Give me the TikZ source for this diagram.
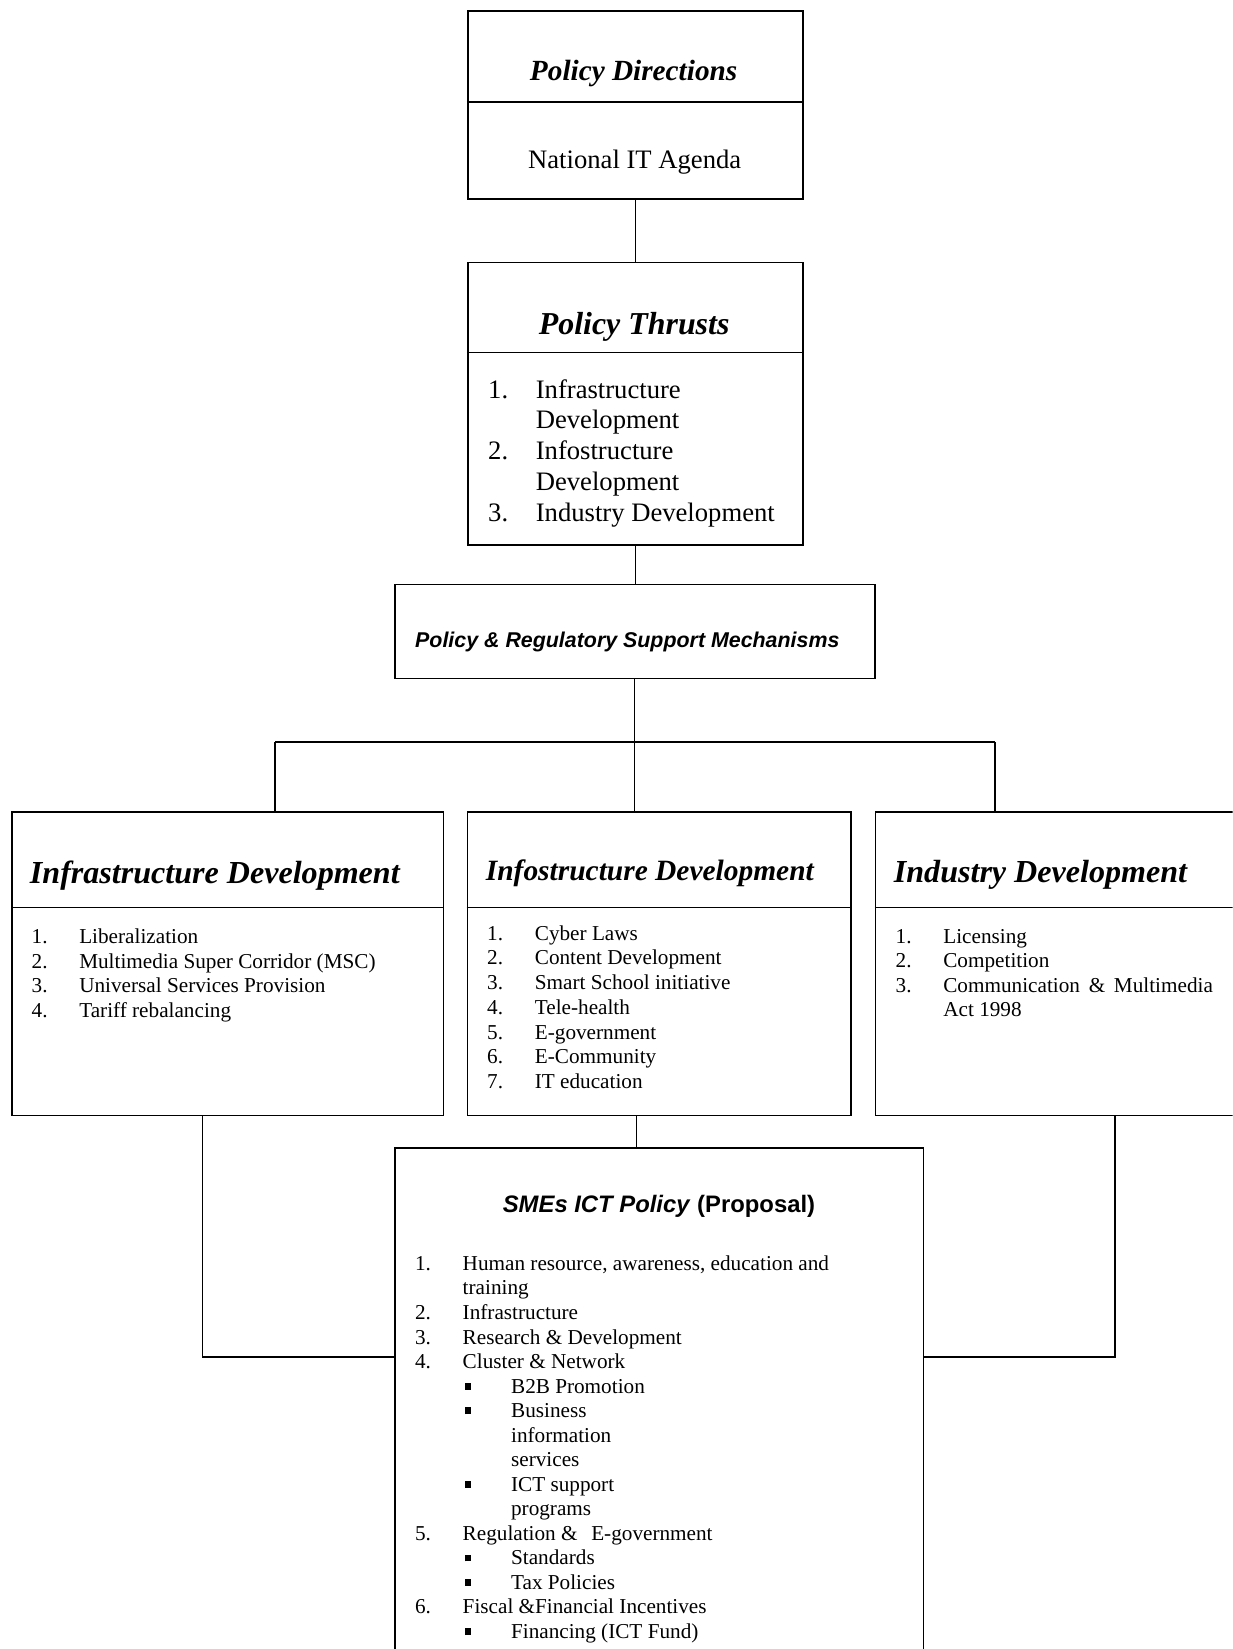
\documentclass[tikz,border=0pt]{standalone}
\usepackage{fontspec}
\setmainfont{Liberation Serif}
\setsansfont{Liberation Sans}

% one drawing unit, used for all lengths below
\newdimen\unitpx \unitpx=0.6pt

% list helpers: number column, continuation, square bullets
\newcommand\numitem[2]{\makebox[45.3\unitpx][l]{#1}#2}
\newcommand\contline[1]{\hspace*{45.3\unitpx}#1}
\newcommand\bulitem[1]{\hspace*{47.3\unitpx}\makebox[44\unitpx][l]{\rule[3.3\unitpx]{6.3\unitpx}{6.5\unitpx}}#1}
\newcommand\bulcont[1]{\hspace*{91.3\unitpx}#1}
\newcommand\listfont{\fontsize{12.1pt}{14pt}\selectfont}
\newcommand\bigfont{\fontsize{15.2pt}{17.6pt}\selectfont}

\begin{document}
\begin{tikzpicture}[x=0.6pt,y=-0.6pt,line width=0.9pt,
  box/.style={draw,rectangle,inner sep=0pt,anchor=north west},
  txt/.style={inner sep=0pt,outer sep=0pt},
  ttl/.style={txt,anchor=base},
  lst/.style={txt,anchor=base west},
  divider/.style={line width=0.9pt}]
\clip (0,0) rectangle (1172,1568);

% ---------- boxes ----------
\node[box,minimum width=319\unitpx,minimum height=178.8\unitpx] (PD) at (444,9.5) {};
\node[box,minimum width=319\unitpx,minimum height=268.9\unitpx] (PT) at (444,248.8) {};
\node[box,minimum width=456.2\unitpx,minimum height=89.5\unitpx] (PRSM) at (374.8,555) {};
\node[box,minimum width=410.5\unitpx,minimum height=288.5\unitpx] (Infra) at (10.5,771.5) {};
\node[box,minimum width=365\unitpx,minimum height=288.5\unitpx] (Info) at (443.6,771.5) {};
\node[box,minimum width=360\unitpx,minimum height=288.5\unitpx] (Ind) at (831.8,771.5) {};
\node[box,minimum width=502.8\unitpx,minimum height=520\unitpx] (SME) at (374.7,1091) {};

% header dividers
\draw[divider] ([yshift=-87.3\unitpx]PD.north west) -- ([yshift=-87.3\unitpx]PD.north east);
\draw[divider] ([yshift=-86.2\unitpx]PT.north west) -- ([yshift=-86.2\unitpx]PT.north east);
\draw[divider] ([yshift=-91.3\unitpx]Infra.north west) -- ([yshift=-91.3\unitpx]Infra.north east);
\draw[divider] ([yshift=-91.3\unitpx]Info.north west) -- ([yshift=-91.3\unitpx]Info.north east);
\draw[divider] ([yshift=-91.3\unitpx]Ind.north west) -- ([yshift=-91.3\unitpx]Ind.north east);

% ---------- texts ----------
\node[ttl,font=\fontsize{16.7pt}{20pt}\selectfont\bfseries\itshape] (pdTitle) at (602.5,76.7) {Policy Directions};
\node[ttl,font=\bigfont] (pdText) at (603.5,160.6) {National IT Agenda};

\node[ttl,font=\fontsize{18.2pt}{22pt}\selectfont\bfseries\itshape] (ptTitle) at (603,317.7) {Policy Thrusts};
\node[lst] (ptList) at (464.2,378.5) {\begin{minipage}[t]{295\unitpx}\bigfont\raggedright
\numitem{1.}{Infrastructure}\\
\contline{Development}\\
\numitem{2.}{Infostructure}\\
\contline{Development}\\
\numitem{3.}{Industry Development}
\end{minipage}};

\node[ttl,font=\fontsize{12.2pt}{15pt}\selectfont\sffamily\bfseries\itshape] (prsmText) at (596.5,615.5) {Policy \& Regulatory Support Mechanisms};

\node[lst,font=\fontsize{18.3pt}{22pt}\selectfont\bfseries\itshape] (infraTitle) at (28.5,840) {Infrastructure Development};
\node[lst] (infraList) at (30.1,897.5) {\begin{minipage}[t]{385\unitpx}\listfont\raggedright
\numitem{1.}{Liberalization}\\
\numitem{2.}{Multimedia Super Corridor (MSC)}\\
\numitem{3.}{Universal Services Provision}\\
\numitem{4.}{Tariff rebalancing}
\end{minipage}};

\node[lst,font=\fontsize{16.8pt}{20pt}\selectfont\bfseries\itshape] (infoTitle) at (462,837.5) {Infostructure Development};
\node[lst] (infoList) at (463.3,894) {\begin{minipage}[t]{340\unitpx}\fontsize{12.1pt}{14.1pt}\selectfont\raggedright
\numitem{1.}{Cyber Laws}\\
\numitem{2.}{Content Development}\\
\numitem{3.}{Smart School initiative}\\
\numitem{4.}{Tele-health}\\
\numitem{5.}{E-government}\\
\numitem{6.}{E-Community}\\
\numitem{7.}{IT education}
\end{minipage}};

\node[lst,font=\fontsize{18.3pt}{22pt}\selectfont\bfseries\itshape] (indTitle) at (850,839) {Industry Development};
\node[lst] (indList) at (851.7,897) {\begin{minipage}[t]{320\unitpx}\listfont\raggedright
\numitem{1.}{Licensing}\\
\numitem{2.}{Competition}\\
\numitem{3.}{\makebox[256.3\unitpx][s]{Communication \& Multimedia}}\\
\contline{Act 1998}
\end{minipage}};

\node[ttl,font=\fontsize{13.6pt}{16pt}\selectfont\sffamily\bfseries] (smeTitle) at (626.6,1153) {\textit{SMEs ICT Policy} (Proposal)};
\node[lst] (smeList) at (394.7,1208) {\begin{minipage}[t]{470\unitpx}\listfont\raggedright
\numitem{1.}{Human resource, awareness, education and}\\
\contline{training}\\
\numitem{2.}{Infrastructure}\\
\numitem{3.}{Research \& Development}\\
\numitem{4.}{Cluster \& Network}\\
\bulitem{B2B Promotion}\\
\bulitem{Business}\\
\bulcont{information}\\
\bulcont{services}\\
\bulitem{ICT support}\\
\bulcont{programs}\\
\numitem{5.}{Regulation \&\hspace{13\unitpx}E-government}\\
\bulitem{Standards}\\
\bulitem{Tax Policies}\\
\numitem{6.}{Fiscal \&Financial Incentives}\\
\bulitem{Financing (ICT Fund)}
\end{minipage}};

% ---------- connectors ----------
\coordinate (barL) at (261.6,705.5);
\coordinate (barR) at (946,705.5);
\coordinate (barC) at (603.5,705.5);
\coordinate (midX) at (605.2,1075);
\coordinate (lk) at (192.7,1290.6);
\coordinate (rk) at (1060,1290.6);

\draw (PD.south) -- (PT.north);
\draw (PT.south) -- (PT.south |- PRSM.north);
\draw (PRSM.south -| barC) -- (barC);
\draw (barL) -- (barR);
\draw (barL) -- (barL |- Infra.north);
\draw (barC) -- (barC |- Info.north);
\draw (barR) -- (barR |- Ind.north);
\draw (Info.south -| midX) -- (SME.north -| midX);
\draw (Infra.south -| lk) |- (SME.west |- lk);
\draw (Ind.south -| rk) |- (SME.east |- rk);
\end{tikzpicture}
\end{document}
